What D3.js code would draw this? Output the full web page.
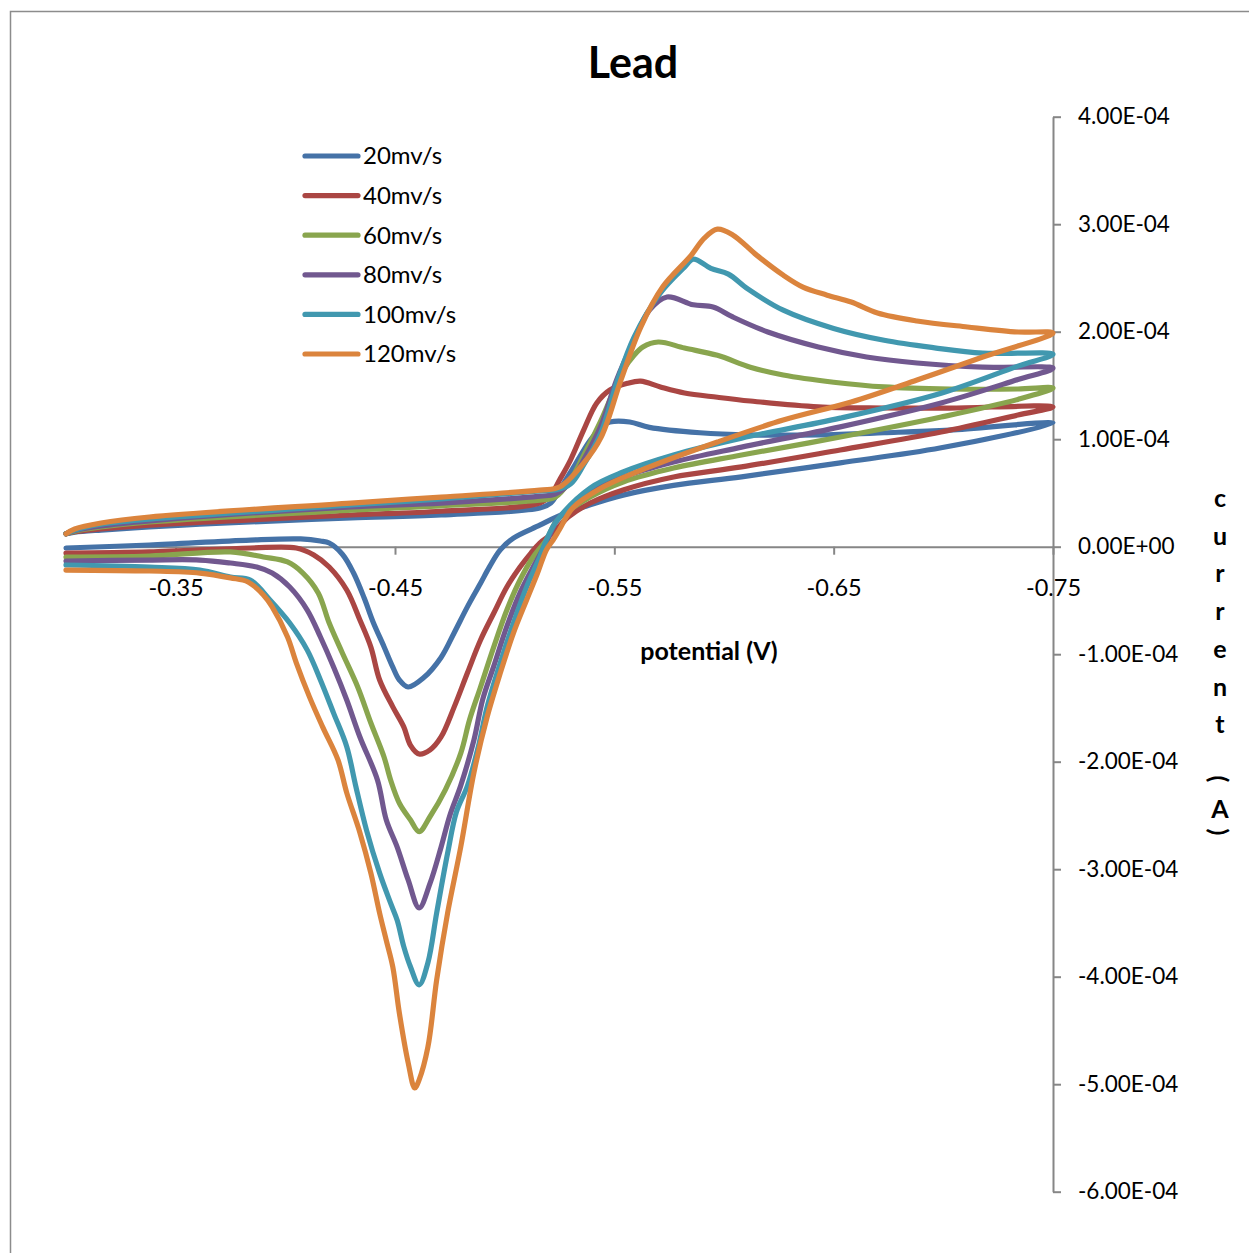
<!DOCTYPE html>
<html>
<head>
<meta charset="utf-8">
<script src="https://cdn.jsdelivr.net/npm/d3@7"></script>
<style>
  body { margin: 0; background: #fff; }
  text { font-family: Lato, "Liberation Sans", sans-serif; }
</style>
</head>
<body>
<script>
// potential in V, current in microamps ([V, uA])
const scanRates = ["20mv/s", "40mv/s", "60mv/s", "80mv/s", "100mv/s", "120mv/s"];
const colors = ["#4572A7", "#AA4643", "#89A54E", "#71588F", "#4198AF", "#DB843D"];
const xTicks = [-0.35, -0.45, -0.55, -0.65, -0.75];
const yTicks = [4e-4, 3e-4, 2e-4, 1e-4, 0, -1e-4, -2e-4, -3e-4, -4e-4, -5e-4, -6e-4];

const fwd20 = [[-0.300,12],[-0.304,13.5],[-0.316,15.5],[-0.338,18.3],[-0.361,21],[-0.384,23],[-0.430,26.7],[-0.471,29.5],[-0.516,36],[-0.521,40.6],[-0.525,52.7],[-0.532,76],[-0.539,99],[-0.545,113],[-0.548,116],[-0.557,116],[-0.566,111],[-0.589,106],[-0.612,104],[-0.643,104],[-0.673,106],[-0.703,108.5],[-0.750,115]];
const rev20 = [[-0.750,115],[-0.699,92],[-0.653,78],[-0.608,65],[-0.577,57],[-0.554,48],[-0.539,39],[-0.524,28],[-0.516,20],[-0.504,8],[-0.498,-3],[-0.493,-19],[-0.489,-34],[-0.483,-56],[-0.477,-80],[-0.471,-103],[-0.463,-122],[-0.456,-130.5],[-0.452,-124],[-0.449,-112],[-0.445,-93],[-0.440,-70],[-0.436,-48],[-0.431,-24],[-0.426,-7],[-0.420,3.4],[-0.416,5.3],[-0.407,7.2],[-0.384,6.2],[-0.338,1.6],[-0.300,-1.2]];

const fwd40 = [[-0.300,12],[-0.304,14],[-0.316,16.5],[-0.338,20],[-0.384,25],[-0.430,29.5],[-0.471,33],[-0.516,40.6],[-0.521,48],[-0.525,62],[-0.530,80.6],[-0.536,108.5],[-0.542,133.7],[-0.548,145.8],[-0.556,152],[-0.562,154],[-0.571,148.6],[-0.582,143],[-0.597,139],[-0.612,135.5],[-0.643,130],[-0.673,129],[-0.703,129],[-0.750,130]];
const rev40 = [[-0.750,130],[-0.734,122.5],[-0.699,106.7],[-0.653,90],[-0.608,74.2],[-0.577,64.9],[-0.554,52.8],[-0.539,40.6],[-0.529,27.6],[-0.522,12.7],[-0.516,3.4],[-0.512,-5.9],[-0.507,-18.9],[-0.501,-37.5],[-0.495,-61.9],[-0.489,-86.8],[-0.483,-117.5],[-0.477,-149],[-0.471,-177],[-0.466,-189],[-0.461,-192.8],[-0.457,-184.5],[-0.454,-167.6],[-0.449,-149],[-0.443,-124],[-0.439,-93.4],[-0.434,-68.2],[-0.428,-40.3],[-0.420,-18.9],[-0.413,-7.7],[-0.405,-1.2],[-0.384,-1.2],[-0.338,-4.9],[-0.300,-5.9]];

const fwd60 = [[-0.300,12],[-0.304,14.5],[-0.316,18.3],[-0.338,23],[-0.430,34],[-0.471,38],[-0.516,43.4],[-0.523,46],[-0.530,62],[-0.536,85],[-0.544,117.8],[-0.554,164],[-0.559,178],[-0.563,185.8],[-0.570,190.4],[-0.582,184.8],[-0.597,178],[-0.612,167],[-0.627,159.7],[-0.650,153],[-0.673,148.6],[-0.703,146.7],[-0.734,146.7],[-0.750,147.6]];
const rev60 = [[-0.750,147.6],[-0.734,137],[-0.699,120.6],[-0.653,102],[-0.608,85.3],[-0.577,73.2],[-0.554,60.2],[-0.539,46.2],[-0.524,24.8],[-0.519,6.2],[-0.513,-9.6],[-0.507,-31],[-0.501,-58.9],[-0.495,-93.4],[-0.489,-130.5],[-0.484,-161],[-0.480,-192],[-0.473,-226],[-0.466,-251],[-0.461,-265],[-0.457,-254],[-0.452,-238.6],[-0.448,-217],[-0.445,-195.6],[-0.439,-164],[-0.433,-130.5],[-0.426,-98.9],[-0.420,-71],[-0.415,-43],[-0.408,-24.5],[-0.401,-14.2],[-0.390,-9.6],[-0.375,-4.9],[-0.338,-8.7],[-0.300,-9.6]];

const fwd80 = [[-0.300,12],[-0.304,15],[-0.316,19.3],[-0.338,24],[-0.430,37],[-0.471,40.6],[-0.516,47],[-0.523,49],[-0.530,60],[-0.536,80.6],[-0.544,113],[-0.551,155],[-0.559,192],[-0.566,220],[-0.574,232.3],[-0.586,225],[-0.595,223],[-0.604,213.7],[-0.620,199.7],[-0.643,185.8],[-0.665,176.5],[-0.688,170.9],[-0.718,167],[-0.750,166]];
const rev80 = [[-0.750,166],[-0.734,155.5],[-0.699,133.7],[-0.653,111.5],[-0.608,92.6],[-0.577,78.7],[-0.554,64.8],[-0.539,50.9],[-0.524,24.8],[-0.519,3.4],[-0.513,-18.9],[-0.507,-43],[-0.501,-74.1],[-0.495,-111.3],[-0.490,-142],[-0.486,-179.8],[-0.480,-222],[-0.475,-250],[-0.471,-279.5],[-0.466,-313],[-0.461,-336],[-0.456,-310],[-0.451,-279.5],[-0.446,-254],[-0.442,-217],[-0.434,-177],[-0.428,-142.6],[-0.422,-111.9],[-0.416,-84],[-0.410,-58.9],[-0.402,-37.5],[-0.394,-24.5],[-0.387,-18.9],[-0.375,-15.2],[-0.361,-12.4],[-0.338,-12.4],[-0.300,-13.3]];

const fwd100 = [[-0.300,12],[-0.304,15.5],[-0.316,21],[-0.338,25.7],[-0.430,38.8],[-0.471,44.4],[-0.516,51.8],[-0.523,52.7],[-0.530,58.3],[-0.536,76],[-0.544,106.7],[-0.551,152],[-0.559,195],[-0.571,236],[-0.582,260],[-0.586,267.5],[-0.594,259],[-0.602,253.6],[-0.611,239.6],[-0.627,220],[-0.650,203],[-0.673,192],[-0.696,185],[-0.718,180],[-0.750,179]];
const rev100 = [[-0.750,179],[-0.734,168],[-0.699,142.8],[-0.653,119.6],[-0.608,101],[-0.577,85.3],[-0.554,69.5],[-0.539,54.6],[-0.524,24.8],[-0.519,6.2],[-0.516,-9.6],[-0.510,-37.5],[-0.504,-71],[-0.498,-108],[-0.492,-149],[-0.488,-186],[-0.483,-222.6],[-0.478,-246.8],[-0.474,-285],[-0.469,-340.6],[-0.465,-387],[-0.461,-407.6],[-0.457,-390.5],[-0.454,-372],[-0.451,-347.5],[-0.448,-331.6],[-0.443,-303.7],[-0.437,-263.6],[-0.432,-221.7],[-0.428,-186],[-0.422,-154.8],[-0.416,-124],[-0.410,-96.2],[-0.402,-71],[-0.393,-49.6],[-0.384,-31],[-0.375,-28.2],[-0.361,-21.7],[-0.338,-18.9],[-0.300,-17]];

const fwd120 = [[-0.300,12],[-0.304,16.5],[-0.316,22],[-0.338,27.6],[-0.430,40.6],[-0.471,46.2],[-0.516,52.7],[-0.525,55.5],[-0.536,77.7],[-0.544,102],[-0.553,155],[-0.562,204],[-0.572,241.5],[-0.585,271],[-0.591,287],[-0.597,295.4],[-0.604,290],[-0.615,271],[-0.627,252.6],[-0.636,241.5],[-0.647,234],[-0.658,227.6],[-0.670,217.4],[-0.688,210],[-0.711,204.4],[-0.734,199.7],[-0.750,198.8]];
const rev120 = [[-0.750,198.8],[-0.718,176.5],[-0.688,155],[-0.658,134.6],[-0.627,117.8],[-0.597,97.4],[-0.566,74.2],[-0.544,54.6],[-0.531,36],[-0.525,16],[-0.522,6],[-0.519,-3],[-0.515,-24.5],[-0.510,-49.6],[-0.504,-80.3],[-0.498,-117.5],[-0.492,-158.4],[-0.486,-210],[-0.480,-279],[-0.474,-340.6],[-0.469,-403],[-0.465,-465.5],[-0.461,-496],[-0.459,-503.5],[-0.456,-480],[-0.452,-434],[-0.449,-391],[-0.446,-366],[-0.443,-341],[-0.439,-303.7],[-0.434,-266],[-0.428,-229],[-0.424,-198.4],[-0.417,-167.6],[-0.411,-139.7],[-0.405,-108],[-0.401,-84],[-0.394,-56],[-0.390,-44.9],[-0.383,-32.8],[-0.375,-29],[-0.361,-24.5],[-0.338,-22.6],[-0.300,-21.7]];

const series = [
    {name: scanRates[0], color: colors[0], fwd: fwd20, rev: rev20},
    {name: scanRates[1], color: colors[1], fwd: fwd40, rev: rev40},
    {name: scanRates[2], color: colors[2], fwd: fwd60, rev: rev60},
    {name: scanRates[3], color: colors[3], fwd: fwd80, rev: rev80},
    {name: scanRates[4], color: colors[4], fwd: fwd100, rev: rev100},
    {name: scanRates[5], color: colors[5], fwd: fwd120, rev: rev120}
];

const width = 1249, height = 1253;
const axisColor = "#868686";
const font = "Lato, 'Liberation Sans', sans-serif";

const svg = d3.select("body").append("svg")
    .attr("width", width)
    .attr("height", height);

svg.append("rect")
    .attr("width", width)
    .attr("height", height)
    .attr("fill", "#fff");

// chart area border
svg.append("rect")
    .attr("x", 10.5)
    .attr("y", 11.5)
    .attr("width", 1300)
    .attr("height", 1300)
    .attr("fill", "none")
    .attr("stroke", "#8c8c8c")
    .attr("stroke-width", 1.5);

const x = d3.scaleLinear().domain([-0.30, -0.75]).range([66, 1053]);
const y = d3.scaleLinear().domain([-6e-4, 4e-4]).range([1191.7, 116.7]);

const sci = v => {
    const [m, e] = v.toExponential(2).split("e");
    const n = +e;
    return m + "E" + (n < 0 ? "-" : "+") + String(Math.abs(n)).padStart(2, "0");
};

const xAxis = g => g
    .attr("transform", `translate(0,${y(0)})`)
    .call(d3.axisBottom(x).tickValues(xTicks).tickFormat(d => d.toFixed(2))
        .tickSize(8).tickSizeOuter(0).tickPadding(25))
    .attr("font-family", font)
    .attr("font-size", 23.5)
    .call(g => g.select(".domain").attr("stroke", axisColor).attr("stroke-width", 2))
    .call(g => g.selectAll(".tick line").attr("stroke", axisColor).attr("stroke-width", 2))
    .call(g => g.selectAll(".tick text").attr("fill", "#000"));

const yAxis = g => g
    .attr("transform", `translate(${x(-0.75)},0)`)
    .call(d3.axisRight(y).tickValues(yTicks).tickFormat(sci)
        .tickSize(8).tickSizeOuter(0).tickPadding(17))
    .attr("font-family", font)
    .attr("font-size", 22.5)
    .call(g => g.select(".domain").attr("stroke", axisColor).attr("stroke-width", 2))
    .call(g => g.selectAll(".tick line").attr("stroke", axisColor).attr("stroke-width", 2))
    .call(g => g.selectAll(".tick text").attr("fill", "#000"));

svg.append("g").call(xAxis);
svg.append("g").call(yAxis);

const line = d3.line()
    .x(d => x(d[0]))
    .y(d => y(d[1] * 1e-6))
    .curve(d3.curveCatmullRom.alpha(0.5));

svg.append("g")
    .selectAll("path")
    .data(series)
    .join("path")
    .attr("fill", "none")
    .attr("stroke", d => d.color)
    .attr("stroke-width", 5.2)
    .attr("stroke-linejoin", "round")
    .attr("stroke-linecap", "round")
    .attr("d", d => line(d.fwd.concat(d.rev.slice(1))));

// legend
const legend = svg.append("g")
    .selectAll("g")
    .data(series)
    .join("g")
    .attr("transform", (d, i) => `translate(305,${156 + i * 39.6})`);

legend.append("line")
    .attr("x1", 0).attr("x2", 53)
    .attr("stroke", d => d.color)
    .attr("stroke-width", 5.2)
    .attr("stroke-linecap", "round");

legend.append("text")
    .attr("x", 58)
    .attr("dy", "0.35em")
    .attr("font-size", 24)
    .text(d => d.name);

// titles
svg.append("text")
    .attr("x", 633)
    .attr("y", 78)
    .attr("text-anchor", "middle")
    .attr("font-size", 43)
    .attr("font-weight", "bold")
    .text("Lead");

svg.append("text")
    .attr("x", 709)
    .attr("y", 660)
    .attr("text-anchor", "middle")
    .attr("font-size", 25)
    .attr("font-weight", "bold")
    .text("potential (V)");

// stacked vertical axis title
const yTitle = "current (A)".split("");
const yTitlePos = [507, 544.7, 582.4, 620, 657.8, 695.5, 733.2, 0, 779, 818, 832];
svg.append("g")
    .selectAll("text")
    .data(yTitle.map((c, i) => ({c, y: yTitlePos[i]})).filter(d => d.c !== " "))
    .join("text")
    .attr("font-size", 25)
    .attr("font-weight", "bold")
    .attr("text-anchor", "middle")
    .attr("dominant-baseline", d => (d.c === "(" || d.c === ")") ? "central" : null)
    .attr("transform", d => (d.c === "(" || d.c === ")")
        ? `translate(1220,${d.y}) rotate(90)`
        : `translate(1220,${d.y})`)
    .text(d => d.c);
</script>
</body>
</html>
